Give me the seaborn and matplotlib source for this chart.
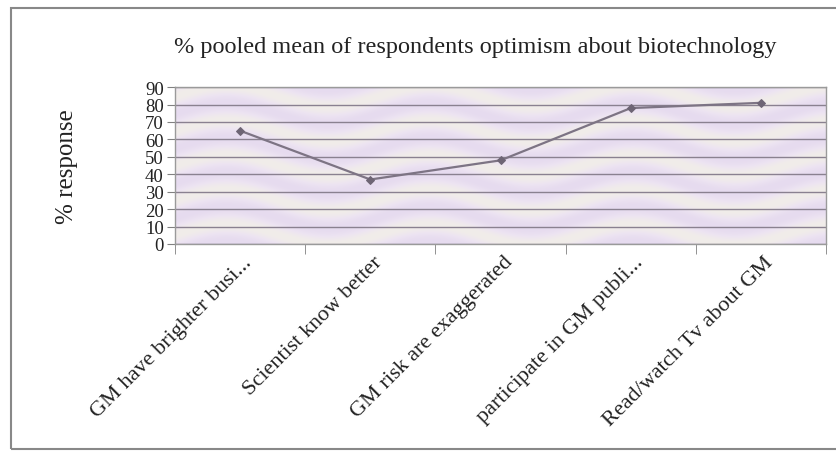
import matplotlib.pyplot as plt
import matplotlib.transforms as mtransforms
from matplotlib.colors import LinearSegmentedColormap
import seaborn as sns
import pandas as pd
import numpy as np

categories = ["GM have brighter busi...", "Scientist know better", "GM risk are exaggerated",
              "participate in GM publi...", "Read/watch Tv about GM"]
values = [65, 37, 48, 78, 81]
yticks = list(range(0, 100, 10))

df = pd.DataFrame({"item": categories, "response": values})

sns.set_style("white")
plt.rcParams["font.family"] = ["Liberation Serif", "DejaVu Serif"]

fig = plt.figure(figsize=(8.36, 4.52), dpi=100)
ax = fig.add_axes([0.2093, 0.458, 0.779, 0.347])
ax.set_facecolor("#ece2f0")

# soft pastel wavy fill like the original chart's texture background
gx, gy = np.meshgrid(np.linspace(0, 1, 400), np.linspace(0, 1, 120))
wave = np.sin(2 * np.pi * (gy * 4.5 + 0.3 * np.sin(2 * np.pi * gx * 3.2)))
bg_cmap = LinearSegmentedColormap.from_list("bg", ["#e6dbef", "#ede4f2", "#f1ede9"])
ax.imshow(wave, cmap=bg_cmap, extent=[0, 1, 0, 1], transform=ax.transAxes,
          aspect="auto", zorder=0, interpolation="bilinear")

for y in yticks:
    ax.axhline(y, color="#8a8190", lw=1.0, zorder=1)

sns.lineplot(data=df, x="item", y="response", ax=ax, sort=False, color="#7d7484",
             lw=1.6, marker="D", markersize=4, markeredgecolor="#6e6575",
             markerfacecolor="#6e6575", zorder=3)

ax.set_xlim(-0.5, len(categories) - 0.5)
ax.set_ylim(0, 90)
ax.set_yticks(yticks)
ax.tick_params(axis="y", labelsize=13.5, length=6, color="#808080", pad=2, left=True,
               labelcolor="#222222")

ax.set_xticks(range(len(categories)))
ax.set_xticks(np.arange(-0.5, len(categories), 1.0), minor=True)
ax.tick_params(axis="x", which="major", length=0, pad=6)
ax.tick_params(axis="x", which="minor", length=7, color="#808080", bottom=True)
ax.set_xticklabels(categories, rotation=45, ha="right", va="top", fontsize=16, color="#222222")
offset = mtransforms.ScaledTranslation(0.16, 0, fig.dpi_scale_trans)
for lab in ax.get_xticklabels():
    lab.set_transform(lab.get_transform() + offset)

for s in ax.spines.values():
    s.set_color("#9a9a9a")
    s.set_linewidth(1.0)

ax.set_xlabel("")
ax.set_ylabel("% response", fontsize=18, labelpad=48, color="#222222")
fig.text(0.568, 0.895, "% pooled mean of respondents optimism about biotechnology",
         ha="center", va="center", fontsize=17.5, color="#222222")

# outer chart frame
frame = plt.Rectangle((0.013, 0.005), 1.2, 0.975, transform=fig.transFigure,
                      fill=False, edgecolor="#888888", lw=1.5)
fig.add_artist(frame)

plt.savefig("out.png", dpi=100)
